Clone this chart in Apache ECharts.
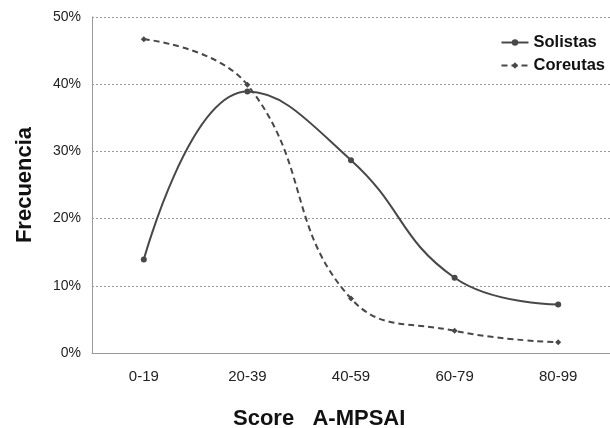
<!DOCTYPE html>
<html><head><meta charset="utf-8">
<script src="https://cdn.jsdelivr.net/npm/echarts@6/dist/echarts.min.js"></script>
<style>html,body{margin:0;padding:0;background:#fff}#c{width:610px;height:428px}</style>
</head><body><div id="c"></div>
<script>
const categories = ['0-19','20-39','40-59','60-79','80-99'];
const solistas = [13.9, 38.9, 28.7, 11.2, 7.2];
const coreutas = [46.7, 39.9, 8.1, 3.3, 1.6];
const yTicks = [0, 10, 20, 30, 40, 50];

const chart = echarts.init(document.getElementById('c'));
chart.setOption({
  animation: false,
  backgroundColor: '#fff',
  textStyle: {fontFamily: 'Liberation Sans, Arial, sans-serif'},
  title: {
    text: 'Score   A-MPSAI', left: 233, top: 408, padding: 0,
    textStyle: {fontWeight: 'bold', fontSize: 22, color: '#111'}
  },
  grid: {left: 92, top: 17, height: 336, width: 527},
  legend: {
    orient: 'vertical', right: 0, top: 29, itemGap: 6, itemWidth: 27, itemHeight: 8,
    textStyle: {fontWeight: 'bold', fontSize: 16.5, color: '#111'},
    data: ['Solistas', 'Coreutas']
  },
  xAxis: {
    type: 'category', data: categories, boundaryGap: true,
    axisLine: {lineStyle: {color: '#999', width: 1}},
    axisTick: {alignWithLabel: true, length: 10, lineStyle: {color: '#8fb0d8'}},
    axisLabel: {fontSize: 15, color: '#222', margin: 16}
  },
  yAxis: {
    type: 'value', min: 0, max: 50, interval: 10,
    name: 'Frecuencia', nameLocation: 'middle', nameGap: 56, nameRotate: 90,
    nameTextStyle: {fontWeight: 'bold', fontSize: 22, color: '#111'},
    axisLine: {show: true, lineStyle: {color: '#999'}},
    axisTick: {show: false},
    axisLabel: {fontSize: 14, color: '#222', margin: 11, formatter: v => yTicks.includes(v) ? v + '%' : ''},
    splitLine: {lineStyle: {color: '#999', type: [2, 2], width: 1}}
  },
  series: [
    {name: 'Solistas', type: 'line', data: solistas, smooth: 0.45,
     symbol: 'circle', symbolSize: 6,
     lineStyle: {color: '#484848', width: 2}, itemStyle: {color: '#484848'}},
    {name: 'Coreutas', type: 'line', data: coreutas, smooth: 0.45,
     symbol: 'diamond', symbolSize: 6,
     lineStyle: {color: '#484848', width: 2, type: [6, 4]}, itemStyle: {color: '#484848'}}
  ]
});
</script></body></html>
